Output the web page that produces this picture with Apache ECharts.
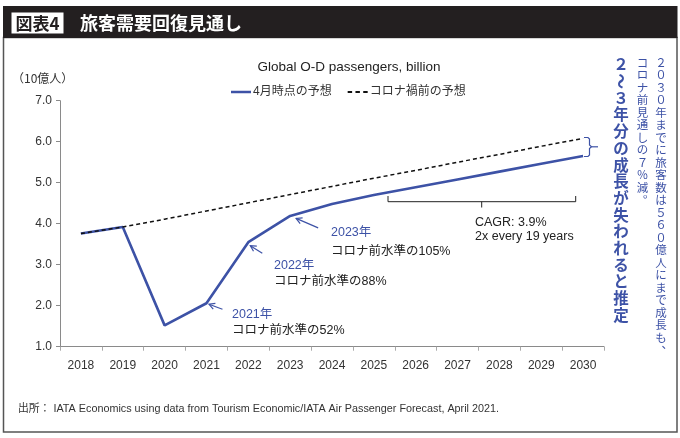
<!DOCTYPE html>
<html><head><meta charset="utf-8">
<script src="https://cdn.jsdelivr.net/npm/echarts@6/dist/echarts.min.js"></script>
<style>html,body{margin:0;padding:0;background:#fff}#c{width:680px;height:438px}</style>
</head><body><div id="c"></div>
<script>
// ---- data ----
const years = ['2018','2019','2020','2021','2022','2023','2024','2025','2026','2027','2028','2029','2030'];
const aprilForecast = [3.76, 3.92, 1.52, 2.06, 3.55, 4.19, 4.48, 4.70, 4.89, 5.08, 5.27, 5.46, 5.65];
const preCovidForecast = [3.76, 3.92, 4.11, 4.31, 4.51, 4.71, 4.91, 5.11, 5.30, 5.50, 5.69, 5.89, 6.08];
const seriesNames = ['4月時点の予想', 'コロナ禍前の予想'];
const yMin = 1, yMax = 7, yStep = 1;

const CJK = "'Noto Sans CJK JP'";
const LAT = "'Liberation Sans', 'Noto Sans CJK JP'";
const BLUE = '#3d52a6';
const DARK = '#231f20';

const chart = echarts.init(document.getElementById('c'), null, {renderer: 'canvas'});

chart.setOption({
  animation: false,
  backgroundColor: '#fff',
  title: {
    text: 'Global O-D passengers, billion',
    left: 344, top: 56, textAlign: 'center',
    textStyle: {fontFamily: LAT, fontSize: 13.5, fontWeight: 'normal', color: '#222'}
  },
  legend: {
    left: 226, top: 81,
    itemWidth: 20, itemHeight: 2.5, itemGap: 16,
    textStyle: {fontFamily: LAT, fontSize: 12, color: '#333', padding: [0, 0, 0, -3]},
    data: [
      {name: seriesNames[0], icon: 'path://M0,0H20V2.5H0Z'},
      {name: seriesNames[1], icon: 'path://M0,0H4V2H0Z M7,0H11V2H7Z M14,0H18V2H14Z'}
    ]
  },
  grid: {left: 60, right: 76, top: 100.7, bottom: 91.3, containLabel: false},
  xAxis: {
    type: 'category', data: years, boundaryGap: true,
    axisLine: {lineStyle: {color: '#8a8a8a', width: 1}},
    axisTick: {show: true, length: 4, lineStyle: {color: '#aaa'}},
    axisLabel: {fontFamily: LAT, fontSize: 12, color: '#333', margin: 13}
  },
  yAxis: {
    type: 'value', min: yMin, max: yMax, interval: yStep,
    axisLine: {show: true, lineStyle: {color: '#8a8a8a', width: 1}},
    axisTick: {show: true, length: 4, lineStyle: {color: '#8a8a8a'}},
    splitLine: {show: false},
    axisLabel: {fontFamily: LAT, fontSize: 12, color: '#333', margin: 8, formatter: v => v.toFixed(1)}
  },
  series: [
    {name: seriesNames[0], type: 'line', data: aprilForecast, symbol: 'none',
     lineStyle: {color: BLUE, width: 2.6}, itemStyle: {color: BLUE}, z: 2},
    {name: seriesNames[1], type: 'line', data: preCovidForecast, symbol: 'none',
     lineStyle: {color: '#111', width: 1.5, type: [4, 3]}, itemStyle: {color: '#111'}, z: 3}
  ]
});

// ---- decorations ----
function txt(x, y, s, font, fill, align, extra) {
  return Object.assign({type: 'text', x: x, y: y, z: 100,
    style: {text: s, font: font, fill: fill, align: align || 'left', verticalAlign: 'middle',
            textAlign: align || 'left', textVerticalAlign: 'middle'}}, extra || {});
}
function line(pts, color, w) {
  return {type: 'polyline', z: 100, shape: {points: pts}, style: {stroke: color, lineWidth: w, fill: null}};
}
function arrow(p, head, tail) {
  const hx = p[0] + head[0], hy = p[1] + head[1];
  const tx = p[0] + tail[0], ty = p[1] + tail[1];
  let dx = tx - hx, dy = ty - hy; const L = Math.hypot(dx, dy); dx /= L; dy /= L;
  const a = 0.5, len = 6.5;
  const w1 = [hx + len * (dx * Math.cos(a) - dy * Math.sin(a)), hy + len * (dx * Math.sin(a) + dy * Math.cos(a))];
  const w2 = [hx + len * (dx * Math.cos(-a) - dy * Math.sin(-a)), hy + len * (dx * Math.sin(-a) + dy * Math.cos(-a))];
  return [line([[tx, ty], [hx, hy]], BLUE, 1.2), line([w1, [hx, hy], w2], BLUE, 1.2)];
}
function vcol(s, cx, top, step, size, weight, color) {
  const out = [];
  Array.from(s).forEach((ch, i) => {
    let x = cx, y = top + i * step + size / 2, rot = 0;
    if (ch === '～') rot = -Math.PI / 2;
    if (ch === '、' || ch === '。') { x += size * 0.55; y -= size * 0.55; }
    out.push({type: 'text', x: x, y: y, rotation: rot, z: 100,
      style: {text: ch, font: (weight || 'normal') + ' ' + size + 'px ' + CJK, fill: color,
              align: 'center', verticalAlign: 'middle', textAlign: 'center', textVerticalAlign: 'middle'}});
  });
  return out;
}

const pix = years.map((y, i) => chart.convertToPixel({seriesIndex: 0}, [i, aprilForecast[i]]));
const g = [];
// title bar + frame
g.push({type: 'rect', z: 90, shape: {x: 3.5, y: 37.5, width: 673.5, height: 394.5}, style: {fill: null, stroke: '#555', lineWidth: 1.5}});
g.push({type: 'rect', z: 95, shape: {x: 3, y: 6, width: 674.5, height: 32}, style: {fill: DARK}});
g.push({type: 'rect', z: 96, shape: {x: 11.5, y: 12.5, width: 52, height: 21}, style: {fill: '#fff'}});
g.push(txt(37.5, 23.5, '図表4', 'bold 17px ' + CJK, DARK, 'center'));
g.push(txt(80, 23, '旅客需要回復見通し', 'bold 18px ' + CJK, '#fff', 'left'));
// unit
g.push(txt(12, 78, '（10億人）', '12px ' + CJK, '#333', 'left'));
// annotations
g.push(txt(331, 233, '2023年', '12.5px ' + LAT, BLUE));
g.push(txt(331, 251.5, 'コロナ前水準の105%', '12.5px ' + LAT, '#222'));
g.push(txt(274, 266, '2022年', '12.5px ' + LAT, BLUE));
g.push(txt(274, 282, 'コロナ前水準の88%', '12.5px ' + LAT, '#222'));
g.push(txt(232, 315, '2021年', '12.5px ' + LAT, BLUE));
g.push(txt(232, 331, 'コロナ前水準の52%', '12.5px ' + LAT, '#222'));
g.push(...arrow(pix[5], [6, 2.5], [28, 12]));
g.push(...arrow(pix[4], [2, 3.5], [14, 11]));
g.push(...arrow(pix[3], [2.5, 1], [16, 6]));
// CAGR bracket
g.push(line([[388, 196], [388, 201.7], [575.7, 201.7], [575.7, 196]], '#222', 1));
g.push(line([[481.7, 201.7], [481.7, 207.5]], '#222', 1));
g.push(txt(475, 222.7, 'CAGR: 3.9%', '12.5px ' + LAT, '#222'));
g.push(txt(475, 236.7, '2x every 19 years', '12.5px ' + LAT, '#222'));
// brace at 2030
g.push(line([[584, 137.5], [588, 137.5], [589.5, 139], [589.5, 145], [591.5, 146.8], [589.5, 148.6], [589.5, 155], [588, 156.5], [584, 156.5]], BLUE, 1.2));
g.push(line([[591.5, 146.8], [598, 146.8]], BLUE, 1.2));
// vertical texts
g.push(...vcol('２～３年分の成長が失われると推定', 621, 56.7, 16.7, 15.5, 'bold', BLUE));
g.push(...vcol('コロナ前見通しの７％減。', 642.5, 56.7, 12.5, 11.5, 'normal', BLUE));
g.push(...vcol('２０３０年までに旅客数は５６０億人にまで成長も、', 661, 56.7, 12.5, 11.5, 'normal', BLUE));
// source
g.push(txt(18, 409, '出所： IATA Economics using data from Tourism Economic/IATA Air Passenger Forecast, April 2021.', '10.8px ' + LAT, '#333'));

chart.setOption({graphic: {elements: g}});
</script>
</body></html>
